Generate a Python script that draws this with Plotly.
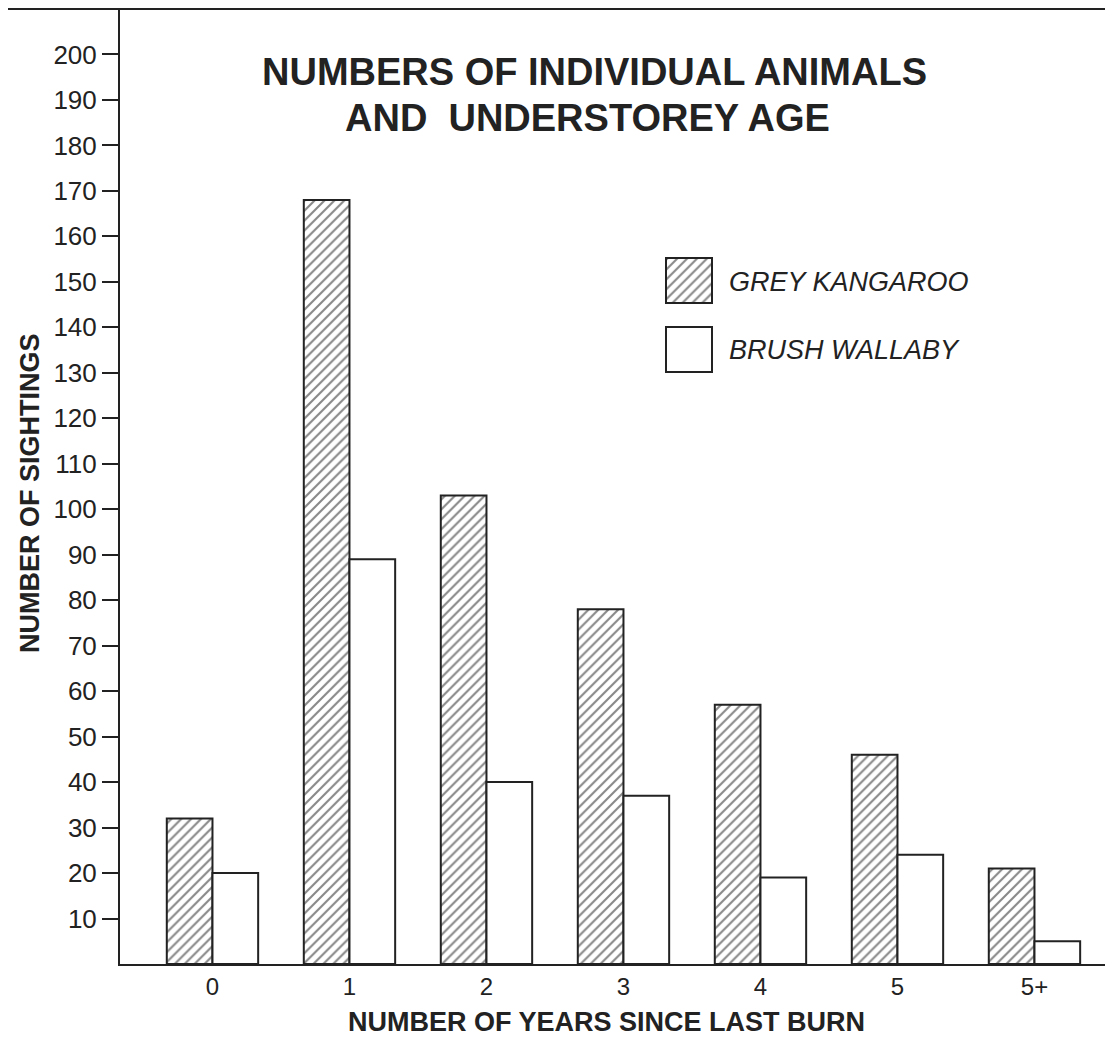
import plotly.graph_objects as go

categories = ["0", "1", "2", "3", "4", "5", "5+"]
grey_kangaroo = [32, 168, 103, 78, 57, 46, 21]
brush_wallaby = [20, 89, 40, 37, 19, 24, 5]
y_ticks = list(range(10, 210, 10))

FONT = "Liberation Sans, Arial, Helvetica, sans-serif"
INK = "#222222"

# page body has an 8px margin; layout below is expressed in window pixels
OFF = 8
W, H = 1097, 1033
L, T = 112, 1
PLOT_W = W - L            # 985
PLOT_H = 955


def px(xw):
    return (xw - (L + OFF)) / PLOT_W


def py(yw):
    return ((T + OFF + PLOT_H) - yw) / PLOT_H


HATCH = dict(shape="/", fgcolor="#111111", bgcolor="white", size=7, solidity=0.3)

fig = go.Figure()
fig.add_trace(go.Bar(
    x=categories, y=grey_kangaroo, name="GREY KANGAROO",
    marker=dict(color="white", line=dict(color=INK, width=2), pattern=HATCH),
    showlegend=False,
))
fig.add_trace(go.Bar(
    x=categories, y=brush_wallaby, name="BRUSH WALLABY",
    marker=dict(color="white", line=dict(color=INK, width=2)),
    showlegend=False,
))

# legend swatches drawn on a small helper axis
fig.add_trace(go.Bar(x=[0], y=[45], base=[69], width=[1], xaxis="x2", yaxis="y2",
                     offsetgroup="legend",
                     marker=dict(color="white", line=dict(color=INK, width=2), pattern=HATCH),
                     showlegend=False, hoverinfo="skip"))
fig.add_trace(go.Bar(x=[0], y=[45], base=[0], width=[1], xaxis="x2", yaxis="y2",
                     offsetgroup="legend",
                     marker=dict(color="white", line=dict(color=INK, width=2)),
                     showlegend=False, hoverinfo="skip"))

fig.update_layout(
    width=W, height=H,
    margin=dict(l=L, r=0, t=T, b=H - T - PLOT_H),
    paper_bgcolor="white", plot_bgcolor="white",
    bargap=0.333, bargroupgap=0,
    barmode="group",
    font=dict(family=FONT, color=INK),
    xaxis=dict(
        type="category", range=[-0.675, -0.675 + PLOT_W / 137.0],
        showline=True, linecolor=INK, linewidth=2,
        showgrid=False, zeroline=False,
        ticks="", ticklabelstandoff=0,
        tickfont=dict(size=24, family=FONT, color=INK),
    ),
    yaxis=dict(
        range=[0, 210], tickvals=y_ticks,
        showline=True, linecolor=INK, linewidth=2,
        showgrid=False, zeroline=False,
        ticks="outside", ticklen=16, tickwidth=2, tickcolor=INK,
        tickfont=dict(size=26, family=FONT, color=INK),
    ),
    xaxis2=dict(domain=[px(662), px(716)], range=[-27 / 46, 27 / 46], anchor="y2",
                visible=False, fixedrange=True),
    yaxis2=dict(domain=[py(376), py(254)], range=[-4, 118], anchor="x2",
                visible=False, fixedrange=True),
)

fig.add_shape(type="line", xref="paper", yref="paper",
              x0=px(OFF), x1=1, y0=1, y1=1, line=dict(color=INK, width=2))

ann = [
    dict(text="NUMBERS OF INDIVIDUAL ANIMALS", x=594, y=72, size=38),
    dict(text="AND\u00a0\u00a0UNDERSTOREY AGE", x=587, y=118, size=38),
    dict(text="NUMBER OF YEARS SINCE LAST BURN", x=606, y=1022, size=27),
]
for a in ann:
    fig.add_annotation(text=f"<b>{a['text']}</b>", x=px(a["x"]), y=py(a["y"]),
                       xref="paper", yref="paper", showarrow=False,
                       xanchor="center", yanchor="middle",
                       font=dict(size=a["size"], family=FONT, color=INK))

fig.add_annotation(text="<b>NUMBER OF SIGHTINGS</b>", x=px(30), y=py(493),
                   xref="paper", yref="paper", showarrow=False, textangle=-90,
                   xanchor="center", yanchor="middle",
                   font=dict(size=27, family=FONT, color=INK))

fig.add_annotation(text="<i>GREY KANGAROO</i>", x=px(727), y=py(282),
                   xref="paper", yref="paper", showarrow=False,
                   xanchor="left", yanchor="middle",
                   font=dict(size=27, family=FONT, color=INK))
fig.add_annotation(text="<i>BRUSH WALLABY</i>", x=px(727), y=py(350),
                   xref="paper", yref="paper", showarrow=False,
                   xanchor="left", yanchor="middle",
                   font=dict(size=27, family=FONT, color=INK))

fig.write_html("out.html")
